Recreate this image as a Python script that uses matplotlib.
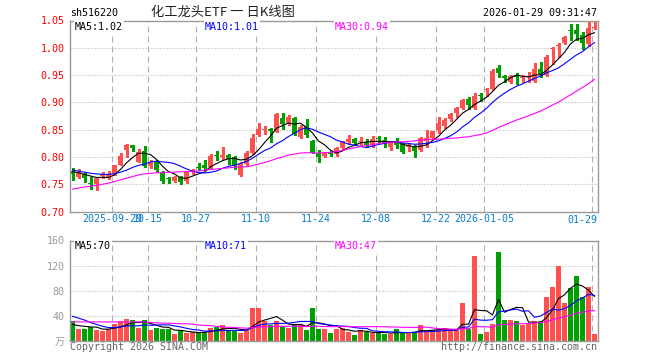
import numpy as np
import pandas as pd
import matplotlib
matplotlib.use('Agg')
import matplotlib.pyplot as plt

plt.rcParams['font.family'] = ['DejaVu Sans Mono', 'Noto Sans CJK SC']
plt.rcParams['lines.scale_dashes'] = False

# daily bars, 2025-09-18 .. 2026-01-29 (88 trading days)
opens = [0.775, 0.764, 0.768, 0.753, 0.750, 0.765, 0.764, 0.768, 0.785, 0.812,
         0.822, 0.791, 0.811, 0.784, 0.790, 0.773, 0.762, 0.756, 0.764, 0.755,
         0.772, 0.782, 0.785, 0.782, 0.803, 0.800, 0.804, 0.799, 0.767, 0.787,
         0.808, 0.840, 0.849, 0.851, 0.846, 0.872, 0.863, 0.872, 0.837, 0.857,
         0.829, 0.807, 0.802, 0.807, 0.806, 0.816, 0.827, 0.833, 0.827, 0.828,
         0.822, 0.834, 0.831, 0.818, 0.828, 0.824, 0.818, 0.819, 0.812, 0.830,
         0.835, 0.850, 0.857, 0.870, 0.880, 0.890, 0.906, 0.889, 0.912, 0.922,
         0.925, 0.963, 0.949, 0.938, 0.951, 0.945, 0.946, 0.940, 0.961, 0.951,
         0.998, 1.003, 1.008, 1.031, 1.033, 1.024, 1.007, 1.037]
closes = [0.768, 0.770, 0.761, 0.751, 0.762, 0.769, 0.769, 0.785, 0.801, 0.822,
          0.817, 0.809, 0.784, 0.790, 0.776, 0.756, 0.759, 0.763, 0.754, 0.772,
          0.776, 0.780, 0.780, 0.802, 0.801, 0.803, 0.797, 0.784, 0.787, 0.808,
          0.835, 0.851, 0.850, 0.848, 0.879, 0.860, 0.873, 0.842, 0.855, 0.841,
          0.808, 0.800, 0.807, 0.805, 0.816, 0.827, 0.833, 0.825, 0.829, 0.822,
          0.833, 0.833, 0.824, 0.828, 0.822, 0.809, 0.822, 0.810, 0.835, 0.835,
          0.847, 0.862, 0.867, 0.879, 0.889, 0.904, 0.896, 0.912, 0.911, 0.923,
          0.957, 0.954, 0.944, 0.948, 0.946, 0.947, 0.948, 0.961, 0.952, 0.984,
          0.999, 1.004, 1.019, 1.030, 1.026, 1.008, 1.036, 1.038]
highs = [0.779, 0.778, 0.770, 0.764, 0.763, 0.773, 0.774, 0.786, 0.808, 0.823,
         0.822, 0.815, 0.820, 0.795, 0.795, 0.775, 0.764, 0.765, 0.765, 0.775,
         0.778, 0.788, 0.795, 0.805, 0.810, 0.818, 0.805, 0.802, 0.790, 0.810,
         0.842, 0.863, 0.857, 0.853, 0.880, 0.880, 0.877, 0.873, 0.858, 0.869,
         0.831, 0.813, 0.809, 0.810, 0.818, 0.830, 0.841, 0.834, 0.836, 0.832,
         0.838, 0.839, 0.836, 0.830, 0.834, 0.825, 0.824, 0.821, 0.837, 0.850,
         0.848, 0.874, 0.871, 0.880, 0.892, 0.906, 0.909, 0.918, 0.917, 0.926,
         0.961, 0.969, 0.951, 0.951, 0.953, 0.951, 0.955, 0.972, 0.974, 0.986,
         1.001, 1.008, 1.021, 1.044, 1.044, 1.029, 1.047, 1.047]
lows = [0.758, 0.762, 0.754, 0.741, 0.740, 0.761, 0.760, 0.766, 0.785, 0.800,
        0.810, 0.790, 0.782, 0.780, 0.773, 0.752, 0.752, 0.754, 0.750, 0.752,
        0.768, 0.776, 0.776, 0.780, 0.795, 0.797, 0.787, 0.778, 0.765, 0.785,
        0.806, 0.839, 0.842, 0.828, 0.845, 0.852, 0.859, 0.840, 0.835, 0.837,
        0.807, 0.790, 0.799, 0.802, 0.802, 0.814, 0.824, 0.823, 0.822, 0.819,
        0.819, 0.825, 0.819, 0.813, 0.816, 0.808, 0.810, 0.800, 0.810, 0.819,
        0.832, 0.844, 0.853, 0.865, 0.874, 0.888, 0.888, 0.888, 0.903, 0.912,
        0.923, 0.946, 0.937, 0.936, 0.933, 0.937, 0.937, 0.937, 0.947, 0.949,
        0.970, 0.984, 1.007, 1.015, 1.014, 0.998, 1.004, 1.035]
# volume, 10k units
volumes = [31.6, 18.9, 18.9, 22.0, 16.8, 15.8, 18.9, 26.8, 31.6, 34.2,
           32.6, 20.5, 32.6, 16.8, 20.5, 18.4, 18.4, 10.5, 15.3, 12.6,
           13.2, 12.6, 13.7, 21.0, 22.0, 24.7, 15.8, 15.8, 12.1, 16.8,
           52.0, 52.0, 31.6, 25.8, 31.6, 23.0, 20.5, 27.3, 27.3, 16.8,
           52.0, 18.9, 18.9, 12.6, 18.9, 21.0, 14.2, 8.9, 16.8, 14.2,
           12.6, 12.6, 10.5, 10.5, 18.4, 12.6, 12.6, 12.6, 24.7, 16.8,
           16.8, 16.8, 20.0, 16.8, 16.8, 60.0, 18.4, 135.7, 10.5, 14.2,
           27.3, 141.5, 33.7, 32.6, 31.0, 24.7, 27.3, 31.0, 31.0, 70.5,
           85.2, 119.3, 60.0, 84.2, 103.6, 69.4, 86.3, 10.5]

# moving-average values at the left edge (they depend on days before the window)
ma5_head = [0.773, 0.771, 0.768, 0.765]
ma10_head = [0.776, 0.774, 0.772, 0.770, 0.769, 0.768, 0.768, 0.769, 0.772]
ma30_head = [0.741, 0.743, 0.745, 0.746, 0.748, 0.750, 0.752, 0.755, 0.758, 0.761,
             0.764, 0.767, 0.769, 0.770, 0.771, 0.771, 0.772, 0.772, 0.773, 0.773,
             0.774, 0.774, 0.776, 0.777, 0.778, 0.779, 0.780, 0.781, 0.782]
vma5_head = [26, 24, 23, 22]
vma10_head = [39, 36, 33, 29, 26, 23, 21, 21, 22]
vma30_head = [30] * 13 + [29, 28.5, 28, 28, 27.5, 27, 27, 26.5,
                          25, 24.5, 24, 23, 22, 21.5, 21, 20.5]

grid_days = [7, 13, 21, 31, 41, 51, 61, 69, 87]
grid_labels = ['2025-09-29', '10-15', '10-27', '11-10', '11-24', '12-08',
               '12-22', '2026-01-05', '01-29']
price_ticks = [0.70, 0.75, 0.80, 0.85, 0.90, 0.95, 1.00, 1.05]
vol_ticks = [0, 40, 80, 120, 160]
vol_tick_labels = ['万', '40', '80', '120', '160']


def moving_avg(values, n, head):
    out = pd.Series(values).rolling(n).mean().to_numpy()
    out[:n - 1] = head
    return out


RED = '#ff5050'
GREEN = '#00a000'
GRID = '#b0b0b0'
FRAME = '#999999'

opens, closes = np.array(opens), np.array(closes)
highs, lows, volumes = np.array(highs), np.array(lows), np.array(volumes)
x = np.arange(len(closes))
colors = np.where(closes >= opens, RED, GREEN)

fig = plt.figure(figsize=(6.6, 3.6), dpi=100)
W, H = 660.0, 360.0
ax = fig.add_axes([70 / W, 1 - 211.5 / H, 528 / W, 191 / H])
axv = fig.add_axes([70 / W, 1 - 340.7 / H, 528 / W, 100.2 / H])

for a in (ax, axv):
    a.set_xlim(-0.42, len(x) - 0.42)
    for s in a.spines.values():
        s.set_color(FRAME)
        s.set_linewidth(1.0)
    for d in grid_days:
        a.axvline(d - 0.42, color=GRID, lw=0.8, dashes=(4.3, 2.9), zorder=0)
    a.tick_params(length=0)

# price panel
ax.set_ylim(0.70, 1.05)
ax.set_yticks(price_ticks)
ax.set_yticklabels(['%.2f' % v for v in price_ticks], color='#ff0000', fontsize=7.2)
ax.tick_params(axis='y', pad=4)
for v in price_ticks[1:-1]:
    ax.axhline(v, color=GRID, lw=0.8, dashes=(0.72, 1.44), zorder=0)
ax.set_xticks([d - 0.42 for d in grid_days])
# the last date label is pulled inside the frame, drawn separately below
ax.set_xticklabels(grid_labels[:-1] + [''], color='#0a7fcf', fontsize=7.2)
ax.tick_params(axis='x', pad=2)

ax.vlines(x, lows, highs, colors=colors, lw=0.75, antialiased=False, zorder=2)
body_h = np.maximum(np.abs(closes - opens), 0.0019)
ax.bar(x, body_h, 0.83, bottom=np.minimum(opens, closes), color=colors,
       lw=0, antialiased=False, zorder=2)

ax.plot(x, moving_avg(closes, 5, ma5_head), color='black', lw=0.8, zorder=3)
ax.plot(x, moving_avg(closes, 10, ma10_head), color='#0000ff', lw=0.8, zorder=3)
ax.plot(x, moving_avg(closes, 30, ma30_head), color='#ff00ff', lw=0.8, zorder=3)

# volume panel
axv.set_ylim(0, 160)
axv.set_yticks(vol_ticks)
axv.set_yticklabels(vol_tick_labels, color='#999999', fontsize=7.2)
axv.tick_params(axis='y', pad=4)
axv.set_xticks([])
for v in vol_ticks[1:-1]:
    axv.axhline(v, color=GRID, lw=0.8, dashes=(0.72, 1.44), zorder=0)
axv.bar(x, volumes, 0.83, color=colors, lw=0, antialiased=False, zorder=2)
axv.plot(x, moving_avg(volumes, 5, vma5_head), color='black', lw=0.8, zorder=3)
axv.plot(x, moving_avg(volumes, 10, vma10_head), color='#0000ff', lw=0.8, zorder=3)
axv.plot(x, moving_avg(volumes, 30, vma30_head), color='#ff00ff', lw=0.8, zorder=3)


def ptext(px, py, s, **kw):
    fig.text(px / W, 1 - py / H, s, va='center', **kw)


box = dict(facecolor='white', edgecolor='none', pad=1)
ptext(75, 26.5, 'MA5:1.02', color='black', fontsize=7.2, bbox=box)
ptext(205, 26.5, 'MA10:1.01', color='#0000ff', fontsize=7.2, bbox=box)
ptext(335, 26.5, 'MA30:0.94', color='#ff00ff', fontsize=7.2, bbox=box)
ptext(75, 246, 'MA5:70', color='black', fontsize=7.2, bbox=box)
ptext(205, 246, 'MA10:71', color='#0000ff', fontsize=7.2, bbox=box)
ptext(335, 246, 'MA30:47', color='#ff00ff', fontsize=7.2, bbox=box)

ptext(597, 219.5, grid_labels[-1], color='#0a7fcf', fontsize=7.2, ha='right')
ptext(70, 13, 'sh516220', color='black', fontsize=7.2)
ptext(223, 12.5, '化工龙头ETF 一 日K线图', color='#222222', fontsize=9.5,
      ha='center', family=['Noto Sans CJK SC', 'DejaVu Sans'])
ptext(597, 13, '2026-01-29 09:31:47', color='black', fontsize=7.2, ha='right')
ptext(70, 346.5, 'Copyright 2026 SINA.COM', color='#666666', fontsize=7.2)
ptext(597, 346.5, 'http://finance.sina.com.cn', color='#666666', fontsize=7.2,
      ha='right')

fig.savefig('out.png', dpi=100)
